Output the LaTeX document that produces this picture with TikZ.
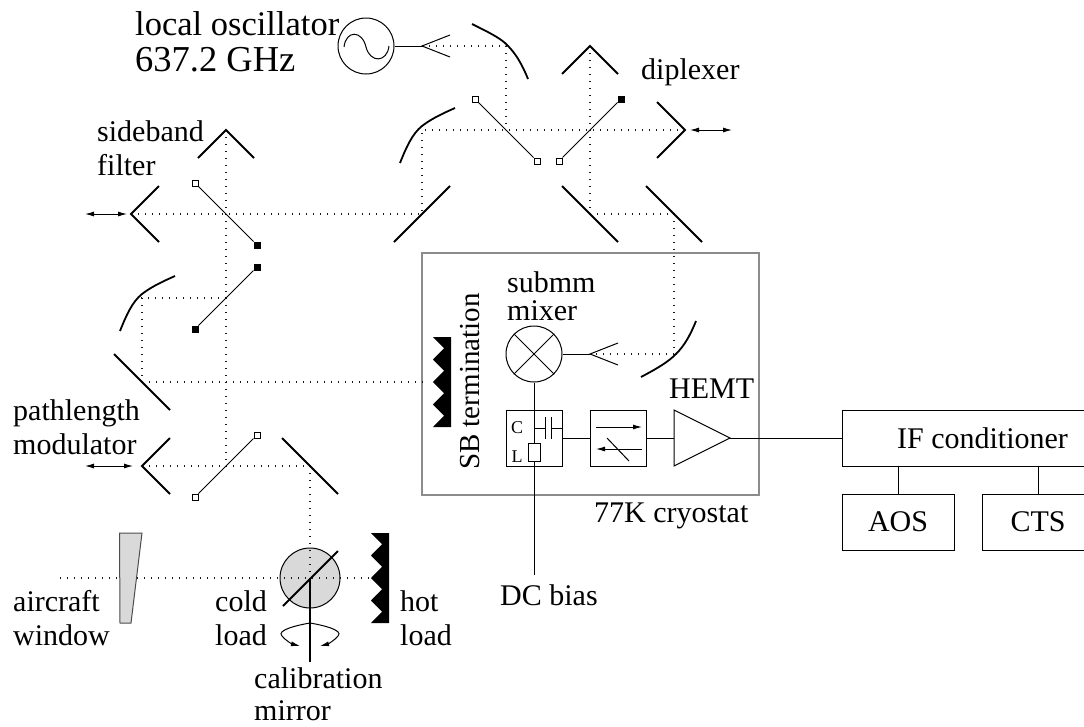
\documentclass[tikz,border=0pt]{standalone}
\usepackage{fontspec}
\setmainfont{Liberation Serif}
\usetikzlibrary{arrows.meta, positioning, calc}

\tikzset{
    beam/.style={line width=1.1pt, black!90, dash pattern=on 1.4pt off 5.6pt},
    mirror/.style={line width=1.8pt},
    wire/.style={line width=1pt},
    grid open/.style={draw, fill=white, line width=1pt, minimum size=6pt, inner sep=0pt},
    grid full/.style={draw, fill=black, line width=1pt, minimum size=6pt, inner sep=0pt},
    ring/.style={draw, circle, line width=1pt, minimum size=56pt, inner sep=0pt},
    unit/.style={draw, line width=1pt, inner sep=0pt},
    big text/.style={font=\fontsize{30}{34}\selectfont},
    caption/.style={inner sep=0pt, anchor=base west, align=left, big text},
    small caption/.style={inner sep=0pt, font=\fontsize{18}{20}\selectfont},
    move/.style={line width=1pt, {Latex[length=9pt,width=5pt]}-{Latex[length=9pt,width=5pt]}}
}

\begin{document}
\begin{tikzpicture}[x=1pt, y=-1pt]
    \useasboundingbox (0,0) rectangle (1084,726);
    \clip (0,0) rectangle (1084,726);

    % cryostat and calibration load
    \draw[line width=2.5pt, black!45] (422,253) rectangle (759,495);
    \node[draw, circle, fill=black!15, line width=1pt, minimum size=60pt, inner sep=0pt] (load) at (310,578) {};

    % beam points
    \coordinate (lofeed) at (422,46);
    \coordinate (lomirror) at (506,46);
    \coordinate (losplit) at (506,130);
    \coordinate (dipback) at (685,130);
    \coordinate (coupler) at (422,130);
    \coordinate (fold) at (422,214);
    \coordinate (sbback) at (131,214);
    \coordinate (diptop) at (590,46);
    \coordinate (dipfold) at (590,214);
    \coordinate (rxfold) at (674,214);
    \coordinate (rxmirror) at (674,354);
    \coordinate (mixfeed) at (590,354);
    \coordinate (sbtop) at (226,130);
    \coordinate (sbcross) at (226,298);
    \coordinate (termmirror) at (142,298);
    \coordinate (termfold) at (142,382);
    \coordinate (termend) at (426,382);
    \coordinate (pathcross) at (226,466);
    \coordinate (pathback) at (142,466);
    \coordinate (pathfold) at (310,466);
    \coordinate (skyend) at (60,578);
    \coordinate (hotend) at (371,578);

    \draw[beam] (lofeed) -- (lomirror) -- (losplit);
    \draw[beam] (dipback) -- (coupler) -- (fold) -- (sbback);
    \draw[beam] (diptop) -- (dipfold) -- (rxfold) -- (rxmirror) -- (mixfeed);
    \draw[beam] (sbtop) -- (pathcross);
    \draw[beam] (sbcross) -- (termmirror) -- (termfold) -- (termend);
    \draw[beam] (pathback) -- (pathfold) -- (load.center);
    \draw[beam] (skyend) -- (hotend);

    % flat mirrors
    \foreach \xa/\ya/\xb/\yb in {394/242/450/186, 562/186/618/242, 646/186/702/242, 114/354/170/410, 282/438/338/494, 283/606/338/551}
        \draw[mirror] (\xa,\ya) -- (\xb,\yb);

    % roof mirrors
    \draw[mirror] (diptop) ++(-28,28) -- (diptop) -- ++(28,28);
    \draw[mirror] (dipback) ++(-28,-28) -- (dipback) -- ++(-28,28);
    \draw[mirror] (sbtop) ++(-28,28) -- (sbtop) -- ++(28,28);
    \draw[mirror] (sbback) ++(28,-28) -- (sbback) -- ++(28,28);
    \draw[mirror] (pathback) ++(28,-28) -- (pathback) -- ++(28,28);

    % curved mirrors
    \draw[mirror] (472,24) .. controls (490,33) and (498,37) .. (505,43) .. controls (515,52) and (522,64) .. (528,79);
    \draw[mirror] (455,108) .. controls (437,116) and (430,120) .. (422,126) .. controls (412,134) and (406,148) .. (400,163);
    \draw[mirror] (175,276) .. controls (157,284) and (150,288) .. (142,294) .. controls (132,302) and (126,316) .. (120,331);
    \draw[mirror] (696,321) .. controls (690,336) and (684,346) .. (676,354) .. controls (668,362) and (658,368) .. (641,377);

    % wire grids
    \node[grid open] (grid1a) at (195,183) {};
    \node[grid full] (grid1b) at (257,245) {};
    \node[grid full] (grid2a) at (257,267) {};
    \node[grid full] (grid2b) at (195,329) {};
    \node[grid open] (grid3a) at (257,435) {};
    \node[grid open] (grid3b) at (195,497) {};
    \node[grid open] (grid4a) at (475,99) {};
    \node[grid open] (grid4b) at (537,161) {};
    \node[grid open] (grid5a) at (559,161) {};
    \node[grid full] (grid5b) at (621,99) {};
    \foreach \a/\b in {grid1a/grid1b, grid2a/grid2b, grid3a/grid3b, grid4a/grid4b, grid5a/grid5b}
        \draw[wire] (\a) -- (\b);

    % roof movement
    \coordinate (dipmovea) at (690,130);
    \coordinate (dipmoveb) at (732,130);
    \coordinate (sbmovea) at (85,214);
    \coordinate (sbmoveb) at (127,214);
    \coordinate (pathmovea) at (85,466);
    \coordinate (pathmoveb) at (133,466);
    \draw[move] (dipmovea) -- (dipmoveb);
    \draw[move] (sbmovea) -- (sbmoveb);
    \draw[move] (pathmovea) -- (pathmoveb);

    % local oscillator
    \node[ring] (lo) at (366,46) {};
    \draw[wire] (lo) -- (lofeed);
    \draw[wire] (lofeed) ++(28,-11) -- (lofeed) -- ++(28,11);
    \draw[wire] (344,47) .. controls (346,30) and (362,30) .. (366,47) .. controls (370,63) and (387,63) .. (389,46);

    % mixer
    \node[ring] (mixer) at (534,354) {};
    \draw[wire] (mixer.north west) -- (mixer.south east);
    \draw[wire] (mixer.north east) -- (mixer.south west);
    \draw[wire] (mixer) -- (mixfeed);
    \draw[wire] (mixfeed) ++(28,-11) -- (mixfeed) -- ++(28,11);

    % absorbers
    \foreach \x/\y in {433/337, 371/533}
        \fill (\x,\y) -- ++(18,0) -- ++(0,90) -- ++(-18,0)
            \foreach \i in {1,...,4} { -- ++(11,-11.25) -- ++(-11,-11.25) } -- cycle;

    % window
    \draw[line width=1pt, black!70, fill=black!15] (119.5,533) -- (142,533) -- (131,623) -- (120,623) -- cycle;

    % calibration mirror axis
    \coordinate (axisend) at (310,662);
    \draw[line width=1.5pt] (load.center) -- (axisend);
    \coordinate (rotate) at (310,623);
    \draw[wire, -{Latex[length=9pt,width=5pt]}] (rotate) .. controls (298,625) and (276,630) .. (282,636) .. controls (285,640) and (292,644) .. (300,646);
    \draw[wire, -{Latex[length=9pt,width=5pt]}] (rotate) .. controls (322,625) and (344,630) .. (338,636) .. controls (335,640) and (328,644) .. (320,646);

    % receiver chain
    \node[unit, minimum width=56pt, minimum height=56pt] (biasT) at (534,438) {};
    \node[unit, minimum width=56pt, minimum height=56pt] (isolator) at (618,438) {};
    \node[unit, minimum width=12pt, minimum height=18pt] (choke) at (534,452) {};
    \node[small caption] (clabel) at (517,428) {C};
    \node[small caption] (llabel) at (517,457) {L};
    \coordinate (dcend) at (534,575);
    \coordinate (capa) at (545,428);
    \coordinate (capb) at (551,428);
    \draw[wire] (mixer.south) -- (choke.north);
    \draw[wire] (choke.south) -- (dcend);
    \draw[wire] (534,428) -- (capa);
    \draw[wire] (capb) -- (biasT.east |- capb);
    \draw[wire] (capa) ++(0,-11) -- ++(0,22);
    \draw[wire] (capb) ++(0,-11) -- ++(0,22);
    \draw[wire] (biasT.east) -- (isolator.west);
    \draw[wire, -{Latex[length=9pt,width=5pt]}] (596,427) -- (642,427);
    \draw[wire, -{Latex[length=9pt,width=5pt]}] (642,449) -- (596,449);
    \draw[wire] (607,438) -- (629,461);
    \coordinate (hemtin) at (674,438);
    \coordinate (hemtout) at (730,438);
    \draw[wire] (674,410) -- (hemtout) -- (674,466) -- cycle;
    \draw[wire] (isolator.east) -- (hemtin);

    % back end
    \node[unit, minimum width=281pt, minimum height=56pt, big text] (ifcond) at (982.5,438) {IF conditioner};
    \node[unit, minimum width=112pt, minimum height=56pt, big text] (aos) at (898,522) {AOS};
    \node[unit, minimum width=112pt, minimum height=56pt, big text] (cts) at (1038,522) {CTS};
    \draw[wire] (hemtout) -- (ifcond.west);
    \draw[wire] (aos.north) -- (aos.north |- ifcond.south);
    \draw[wire] (cts.north) -- (cts.north |- ifcond.south);

    % labels
    \node[caption, font=\fontsize{34.5}{36}\selectfont] (lolabel) at (135,71) {local oscillator\\{\fontsize{36.5}{36}\selectfont 637.2 GHz}};
    \node[caption] (diplabel) at (641,79) {diplexer};
    \node[caption] (sblabel) at (97,175) {sideband\\filter};
    \node[caption] (pathlabel) at (13,454) {pathlength\\modulator};
    \node[caption] (mixlabel) at (507,320) {submm\\[-6pt]mixer};
    \node[caption, rotate=90, font=\fontsize{29}{34}\selectfont] (termlabel) at (479,470) {SB termination};
    \node[caption] (hemtlabel) at (669,398) {HEMT};
    \node[caption] (cryolabel) at (594,522) {77K cryostat};
    \node[caption] (dclabel) at (500,605) {DC bias};
    \node[caption] (winlabel) at (13,645) {aircraft\\window};
    \node[caption] (coldlabel) at (215,645) {cold\\load};
    \node[caption] (hotlabel) at (400,645) {hot\\load};
    \node[caption] (callabel) at (254,720) {calibration\\[-2pt]mirror};
\end{tikzpicture}
\end{document}
